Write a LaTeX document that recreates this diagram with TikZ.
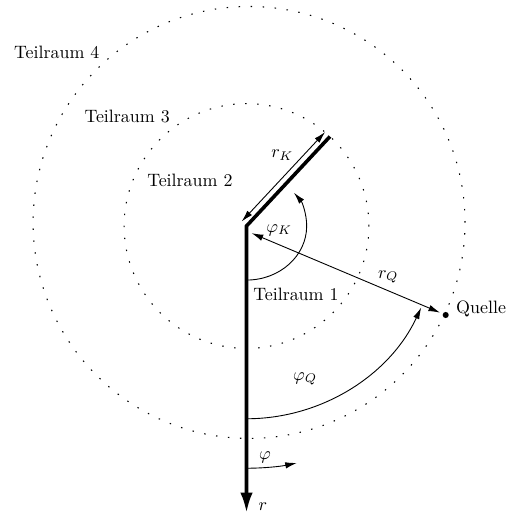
\documentclass[tikz,border=0pt]{standalone}
\usepackage{amsmath}
\usepackage{amssymb}
\usetikzlibrary{arrows.meta}

\begin{document}
\begin{tikzpicture}[
  rod/.style={line width=2pt},
  zone/.style={line width=0.6pt, dash pattern=on 0.8pt off 5.9pt},
  meas/.style={line width=0.5pt, {Latex[length=6.5pt,width=3.6pt]}-{Latex[length=6.5pt,width=3.6pt]}},
  ang/.style={line width=0.5pt, -{Latex[length=6.5pt,width=3.6pt]}},
  dot/.style={circle, fill, inner sep=0pt, minimum size=3.4pt}
]
\useasboundingbox (-4.834,-5.667) rectangle (5.167,4.432);

% feed point and subspace borders
\coordinate (o) at (0,0);
\draw[zone] (o) circle (2.40);
\draw[zone] (0.05,0.07) circle (4.235);

% subspace labels
\node (t1) at (0.97,-1.35) {Teilraum 1};
\node (t2) at (-1.11,0.90) {Teilraum 2};
\node (t3) at (-2.34,2.14) {Teilraum 3};
\node (t4) at (-3.72,3.41) {Teilraum 4};

% rods
\coordinate (k) at (47:2.4);
\coordinate (tip) at (0,-5.63);
\draw[rod, -{Latex[length=11.5pt,width=7pt]}] (k) -- (o) -- (tip);
\node (rlab) at (0.32,-5.51) {$r$};

% rod length
\draw[meas] ([shift={(137:0.13)}]o) -- ([shift={(137:0.13)}]k);
\node (rk) at (0.70,1.39) {$r_K$};

% source
\node[dot] (q) at (3.906,-1.745) {};
\node (qlab) at (4.60,-1.63) {Quelle};
\coordinate (qs) at (0.10,-0.14);
\draw[meas, shorten >=1.5pt] (qs) -- (q);
\node (rq) at (2.78,-1.00) {$r_Q$};

% angles
\draw[ang] (o) ++(0,-1.06) arc[start angle=-90, end angle=38, x radius=1.18, y radius=1.06];
\node (phik) at (0.64,-0.08) {$\varphi_K$};
\draw[ang] (o) ++(0,-3.78) arc[start angle=-90, end angle=-25, radius=3.78];
\node (phiq) at (1.15,-3.00) {$\varphi_Q$};
\draw[ang] (o) ++(0,-4.75) arc[start angle=-90, end angle=-78, radius=4.75];
\node (phi) at (0.36,-4.53) {$\varphi$};
\end{tikzpicture}
\end{document}
